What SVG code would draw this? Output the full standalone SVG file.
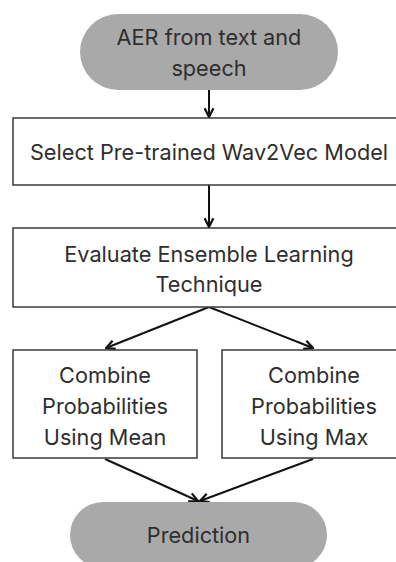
<svg xmlns="http://www.w3.org/2000/svg" width="396" height="562" viewBox="0 0 396 562">
<style>
.term{fill:#a9a9a9;stroke:none}
.box{fill:#ffffff;stroke:#3a3a3a;stroke-width:1.5}
.t{font-family:Inter,"Liberation Sans",sans-serif;font-size:21.7px;fill:#2e2e2e;text-anchor:middle}
.c{stroke:#111;stroke-width:2;fill:none;marker-end:url(#ah)}
</style>
<defs>
<marker id="ah" viewBox="0 0 10 10" refX="9" refY="5" markerWidth="5.5" markerHeight="5.5" orient="auto" markerUnits="strokeWidth">
<path d="M1,1 L9,5 L1,9" fill="none" stroke="#111" stroke-width="2"/>
</marker>
</defs>
<rect width="396" height="562" fill="#ffffff"/>
<g id="connectors">
<line class="c" x1="209" y1="90" x2="209" y2="117"/>
<line class="c" x1="209" y1="185" x2="209" y2="227"/>
<line class="c" x1="209" y1="307" x2="106" y2="348"/>
<line class="c" x1="209" y1="307" x2="313" y2="348"/>
<line class="c" x1="105" y1="459" x2="198" y2="501"/>
<line class="c" x1="313" y1="459" x2="200" y2="501"/>
</g>
<g id="start">
<rect class="term" x="80" y="14" width="258" height="76" rx="38"/>
<text class="t" x="209" y="45">AER from text and</text>
<text class="t" x="209" y="76">speech</text>
</g>
<g id="select">
<rect class="box" x="13" y="118" width="392" height="67"/>
<text class="t" x="209" y="160">Select Pre-trained Wav2Vec Model</text>
</g>
<g id="evaluate">
<rect class="box" x="13" y="228" width="392" height="79"/>
<text class="t" x="209" y="262">Evaluate Ensemble Learning</text>
<text class="t" x="209" y="292">Technique</text>
</g>
<g id="mean">
<rect class="box" x="13" y="350" width="184" height="108"/>
<text class="t" x="105" y="383">Combine</text>
<text class="t" x="105" y="414">Probabilities</text>
<text class="t" x="105" y="445">Using Mean</text>
</g>
<g id="max">
<rect class="box" x="222" y="350" width="184" height="108"/>
<text class="t" x="314" y="383">Combine</text>
<text class="t" x="314" y="414">Probabilities</text>
<text class="t" x="314" y="445">Using Max</text>
</g>
<g id="prediction">
<rect class="term" x="70" y="502" width="257" height="66" rx="33"/>
<text class="t" x="198.5" y="543">Prediction</text>
</g>
</svg>
